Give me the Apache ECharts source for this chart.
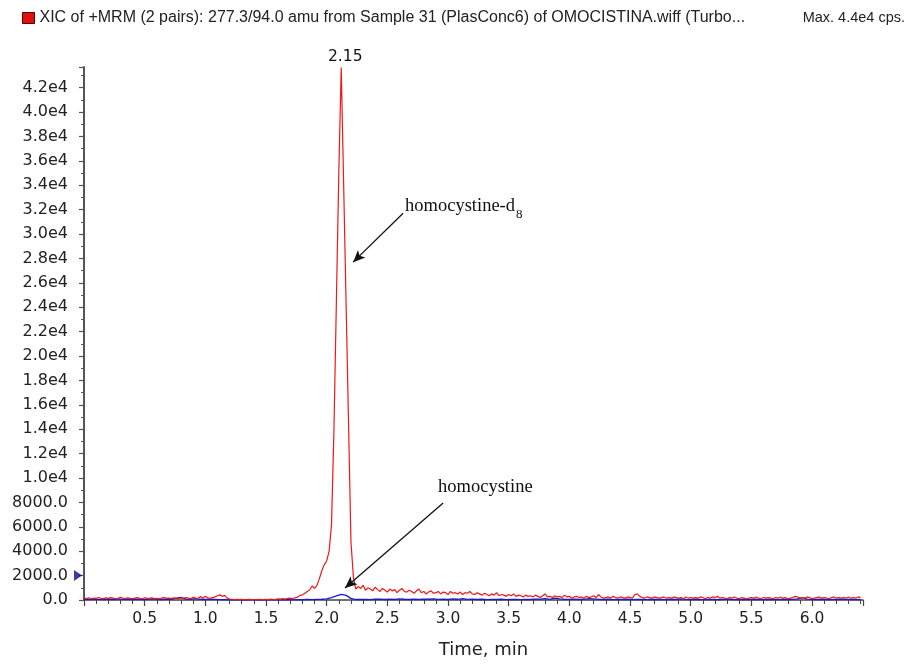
<!DOCTYPE html>
<html>
<head>
<meta charset="utf-8">
<script src="https://cdn.jsdelivr.net/npm/echarts@6/dist/echarts.min.js"></script>
<style>html,body{margin:0;padding:0;background:#fff}#c{width:914px;height:665px}</style>
</head>
<body>
<div id="c"></div>
<script>
// ---- data ----
const legendTitle = 'XIC of +MRM (2 pairs): 277.3/94.0 amu from Sample 31 (PlasConc6) of OMOCISTINA.wiff (Turbo...';
const maxText = 'Max. 4.4e4 cps.';
const xAxisName = 'Time, min';
const peakLabel = '2.15';
const labelD8 = 'homocystine-d';
const labelD8Sub = '8';
const labelHcy = 'homocystine';
const thresholdValue = 2000;

// red trace (277.3/94.0), scans every 0.02 min starting at 0.00
const redStart = 0, redStep = 0.02;
const redPre = [
  150,120,180,100,160,140,200,120,110,170,
  130,190,150,100,140,220,160,120,180,130,
  110,160,200,140,100,180,150,130,170,120,
  140,100,160,210,130,150,110,180,140,120,
  170,130,190,150,110,230,160,120,280,150,
  300,180,140,200,260,350,420,300,380,160,
  80,60,40,50,30,60,40,20,50,30,
  40,30,60,20,40,50,30,70,40,60,
  90,70,110,80,130,150,120,180,230
];
const redPeak = [
  380,420,560,700,820,1150,950,1200,1750,2400,2900,3200,4000,6200,
  14000,24500,35000,43650,34000,24300,14600,4800,1900,900
];
const redPost = [
  1100,950,1200,800,1000,900,750,1050,850,700,
  950,800,650,900,750,850,600,800,950,700,
  650,800,700,550,750,900,600,700,500,650,
  750,550,600,700,500,650,600,450,700,550,
  600,500,650,450,600,550,700,500,450,600,
  500,400,550,450,350,500,400,600,350,450,
  400,300,450,350,500,300,400,350,250,400,
  300,350,250,400,300,200,350,500,250,300,
  200,350,250,300,200,400,250,300,150,250,
  300,200,250,150,300,200,250,350,200,450,
  250,150,200,250,150,300,200,150,250,200,
  150,250,200,150,450,500,300,200,150,250,
  200,150,250,200,150,200,250,150,200,150,
  250,200,150,200,100,250,150,200,150,200,
  150,250,200,100,200,150,250,200,300,150,
  200,150,100,200,150,250,150,100,200,150,
  100,150,200,150,250,150,100,200,150,200,
  150,100,200,150,250,150,200,100,150,200,
  300,250,150,200,150,250,200,100,150,200,
  250,150,200,150,100,200,250,150,200,150,
  200,150,250,150,200,150,250,200
];

// blue trace (second pair), every 0.04 min starting at 0.00
const blueStart = 0, blueStep = 0.04;
const blueValues = [
  60,40,80,50,30,70,40,90,50,60,
  40,70,30,60,100,50,40,80,60,150,
  220,80,50,120,60,40,70,50,30,20,
  10,20,10,0,10,20,0,10,20,10,
  0,10,20,10,30,20,40,30,50,60,
  100,200,330,460,380,130,40,40,50,30,
  60,80,40,70,50,90,60,40,70,50,
  80,60,100,50,70,40,90,60,120,50,
  70,40,60,30,50,40,60,30,50,40,
  30,50,40,60,80,120,60,150,90,60,
  50,80,40,60,120,90,50,40,60,30,
  50,40,60,30,50,40,30,60,40,50,
  30,60,40,90,50,30,60,40,30,50,
  40,30,50,60,30,40,50,30,60,40,
  30,50,40,30,60,40,50,90,200,80,
  50,40,60,30,50,40,60,50,40,30,
  40
];

// annotation anchors (time, intensity)
const annD8Text = [2.646, 32280];
const annHcyText = [2.918, 9258];
const arrowD8 = [[2.630, 31707], [2.218, 27700]];
const arrowHcy = [[2.960, 7947], [2.151, 983]];

// axis settings
const xMin = 0, xMax = 6.42, xInterval = 0.5;
const yMin = 0, yMax = 43700, yInterval = 2000;

// ---- build ----
const redValues = redPre.concat(redPeak, redPost);
const toPairs = (vals, start, step) => vals.map((v, i) => [+(start + i * step).toFixed(2), v]);
const redData = toPairs(redValues, redStart, redStep);
const blueData = toPairs(blueValues, blueStart, blueStep);

const yFmt = v => v < 10000 ? v.toFixed(1) : (v / 10000).toFixed(1) + 'e4';
const axisFont = 'DejaVu Sans';
const serif = 'Liberation Serif';

const chart = echarts.init(document.getElementById('c'), null, {renderer: 'canvas'});
chart.setOption({
  animation: false,
  backgroundColor: '#fff',
  title: {
    text: maxText, right: 4, top: 5,
    textStyle: {fontFamily: 'Liberation Sans', fontSize: 14.5, fontWeight: 'normal', color: '#222'}
  },
  legend: {
    data: [{name: legendTitle, icon: 'rect'}],
    left: 17, top: 5, itemWidth: 12, itemHeight: 11, itemGap: 6,
    selectedMode: false,
    itemStyle: {borderColor: '#550000', borderWidth: 1},
    textStyle: {fontFamily: 'Liberation Sans', fontSize: 16, color: '#222'}
  },
  grid: {left: 84, right: 51, top: 67, bottom: 65, containLabel: false},
  xAxis: {
    type: 'value', min: xMin, max: xMax, interval: xInterval,
    name: xAxisName, nameLocation: 'middle', nameGap: 41,
    nameTextStyle: {fontFamily: axisFont, fontSize: 18, color: '#222', padding: [0, 0, 0, 20]},
    axisLine: {show: true, onZero: false, lineStyle: {color: '#444', width: 1.5}},
    axisTick: {show: true, length: 6, lineStyle: {color: '#444', width: 1.2}},
    minorTick: {show: true, splitNumber: 5, length: 4, lineStyle: {color: '#444', width: 1}},
    axisLabel: {
      showMinLabel: false, showMaxLabel: false, margin: 11,
      fontFamily: axisFont, fontSize: 15.5, color: '#222',
      formatter: v => v.toFixed(1)
    },
    splitLine: {show: false}
  },
  yAxis: {
    type: 'value', min: yMin, max: yMax, interval: yInterval,
    axisLine: {show: true, lineStyle: {color: '#555', width: 2}},
    axisTick: {show: true, length: 5, lineStyle: {color: '#555', width: 1.2}},
    minorTick: {show: true, splitNumber: 2, length: 3, lineStyle: {color: '#555', width: 1}},
    axisLabel: {
      showMaxLabel: false, margin: 16,
      fontFamily: axisFont, fontSize: 16, color: '#222',
      formatter: yFmt
    },
    splitLine: {show: false}
  },
  series: [
    {
      name: 'homocystine', type: 'line', data: blueData, showSymbol: false, silent: true,
      lineStyle: {color: '#1a1acc', width: 1.3}, itemStyle: {color: '#1a1acc'}, z: 2
    },
    {
      name: legendTitle, type: 'line', data: redData, showSymbol: false, silent: true,
      lineStyle: {color: '#f21616', width: 1.2}, itemStyle: {color: '#e01010'}, z: 3,
      markPoint: {
        silent: true, symbol: 'circle', symbolSize: 0,
        data: [
          {type: 'max', label: {show: true, position: 'top', distance: 3, offset: [4, 0],
            formatter: () => peakLabel, fontFamily: axisFont, fontSize: 15.5, color: '#111'}},
          {coord: annD8Text, label: {show: true, position: [0, 0], align: 'left', verticalAlign: 'middle',
            formatter: () => labelD8 + '{sub|' + labelD8Sub + '}',
            fontFamily: serif, fontSize: 18.5, color: '#111',
            rich: {sub: {fontFamily: serif, fontSize: 13, color: '#111', padding: [16, 0, 0, 1]}}}},
          {coord: annHcyText, label: {show: true, position: [0, 0], align: 'left', verticalAlign: 'middle',
            formatter: () => labelHcy, fontFamily: serif, fontSize: 18.5, color: '#111'}}
        ]
      },
      markLine: {
        silent: true, symbol: ['none', 'arrow'], symbolSize: [8, 12],
        lineStyle: {color: '#111', width: 1.3, type: 'solid'},
        label: {show: false},
        data: [
          [{coord: arrowD8[0]}, {coord: arrowD8[1]}],
          [{coord: arrowHcy[0]}, {coord: arrowHcy[1]}]
        ]
      }
    },
    {
      name: 'threshold', type: 'scatter', data: [[xMin, thresholdValue]], silent: true, clip: false,
      symbol: 'triangle', symbolRotate: -90, symbolSize: [11, 8], symbolOffset: [-6, 0],
      itemStyle: {color: '#0a0a8a'}, z: 5
    }
  ]
});
</script>
</body>
</html>
